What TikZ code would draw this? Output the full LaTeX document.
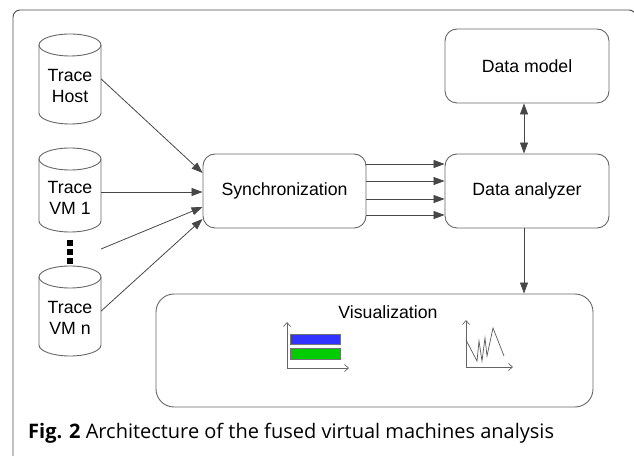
\documentclass[tikz,border=0pt]{standalone}
\usepackage{fontspec}
\setmainfont{Liberation Sans}
\newfontfamily\capfont{Open Sans}
\usetikzlibrary{arrows.meta,calc}
\begin{document}
\begin{tikzpicture}[x=1pt,y=1pt,
  boxline/.style={draw=black!60,line width=0.9pt},
  rbox/.style={boxline,rounded corners=12pt,minimum width=164pt,minimum height=74pt,inner sep=0pt,font=\fontsize{17.7}{21}\selectfont},
  cylbody/.style={minimum width=62pt,inner sep=0pt},
  cyltext/.style={align=center,inner sep=0pt,font=\fontsize{17.7}{21}\selectfont},
  conn/.style={draw=black!72,line width=0.8pt,-{Triangle[length=11pt,width=8pt]}},
  biconn/.style={draw=black!72,line width=0.8pt,{Triangle[length=11pt,width=8pt]}-{Triangle[length=11pt,width=8pt]}},
  axis/.style={draw=black!60,line width=0.7pt,-{Straight Barb[length=4pt,width=7pt]}},
  dotsq/.style={fill=black,minimum size=6pt,inner sep=0pt}
]
\useasboundingbox (0,0) rectangle (634,455);
% outer frame
\begin{scope}
\clip (0,0) rectangle (634,455);
\draw[black!70,line width=0.9pt,rounded corners=7pt] (13,-20) rectangle (636,445);
\end{scope}

% cylinders
\newcommand{\mycyl}[3]{%
  \draw[boxline] (#1,#2-11) ellipse[x radius=31pt,y radius=11pt];
  \draw[boxline] (#1-31,#2-11) -- (#1-31,#3+11)
     arc[start angle=180,end angle=360,x radius=31pt,y radius=11pt] -- (#1+31,#2-11);
}
\mycyl{70}{421}{331}
\mycyl{70}{307}{223}
\mycyl{70}{189}{99}

\node[cylbody,minimum height=90pt] (host) at (70,376) {};
\node[cyltext] (hostt) at (70,369) {Trace\\Host};
\node[cylbody,minimum height=84pt] (vm1) at (70,265) {};
\node[cyltext] (vm1t) at (70,257) {Trace\\VM 1};
\node[cylbody,minimum height=90pt] (vmn) at (70,144) {};
\node[cyltext] (vmnt) at (70,137) {Trace\\VM n};

% dots
\node[dotsq] (d1) at (70,212) {};
\node[dotsq] (d2) at (70,203) {};
\node[dotsq] (d3) at (70,194) {};
\coordinate (vmx) at (101,206);

% boxes
\node[rbox,minimum width=163pt] (sync) at (284.5,264) {Synchronization};
\node[rbox] (an) at (527,264) {Data analyzer};
\node[rbox] (dm) at (527,389) {Data model};
\node[boxline,rounded corners=18pt,minimum width=437pt,minimum height=113pt,inner sep=0pt] (vis) at (374.5,104.5) {};
\node[cyltext] (vislab) at (388,143) {Visualization};

% connectors
\draw[conn] (host.east) -- ([yshift=18pt]sync.west);
\draw[conn] (vm1.east |- 0,263) -- ([yshift=-1pt]sync.west);
\draw[conn] (vmx) -- ([yshift=-16pt]sync.west);
\draw[conn] (vmn.east) -- ([yshift=-28pt]sync.west);

\foreach \dy in {27,10,-8,-24}{
  \draw[conn] ([yshift=\dy pt]sync.east) -- ([yshift=\dy pt]an.west);
}
\draw[biconn] ([xshift=-3pt]an.north) -- ([xshift=-3pt]dm.south);
\draw[conn] ([xshift=-3pt]an.south) -- ([xshift=-3pt]an.south |- vis.north);

% chart 1
\coordinate (c1o) at (287,87);
\draw[axis] (c1o) -- (287,133);
\draw[axis] (c1o) -- (349,87);
\draw[draw=black!55,fill={rgb,255:red,51;green,51;blue,255},line width=0.6pt] (290,111) rectangle (340,121);
\draw[draw=black!55,fill={rgb,255:red,0;green,204;blue,0},line width=0.6pt] (290,96) rectangle (340,107);

% chart 2
\coordinate (c2o) at (466,88);
\draw[axis] (c2o) -- (466,135);
\draw[axis] (c2o) -- (513,88);
\draw[draw=black!65,line width=0.7pt] (466,115) -- (477,94) -- (479,114) -- (482,94) -- (485,117) -- (487,99) -- (493,127) -- (504,99);

% caption
\node[anchor=base west,inner sep=0pt,font=\capfont\fontsize{20}{24}\selectfont] (cap) at (28,17) {\textbf{Fig. 2} Architecture of the fused virtual machines analysis};
\end{tikzpicture}
\end{document}
